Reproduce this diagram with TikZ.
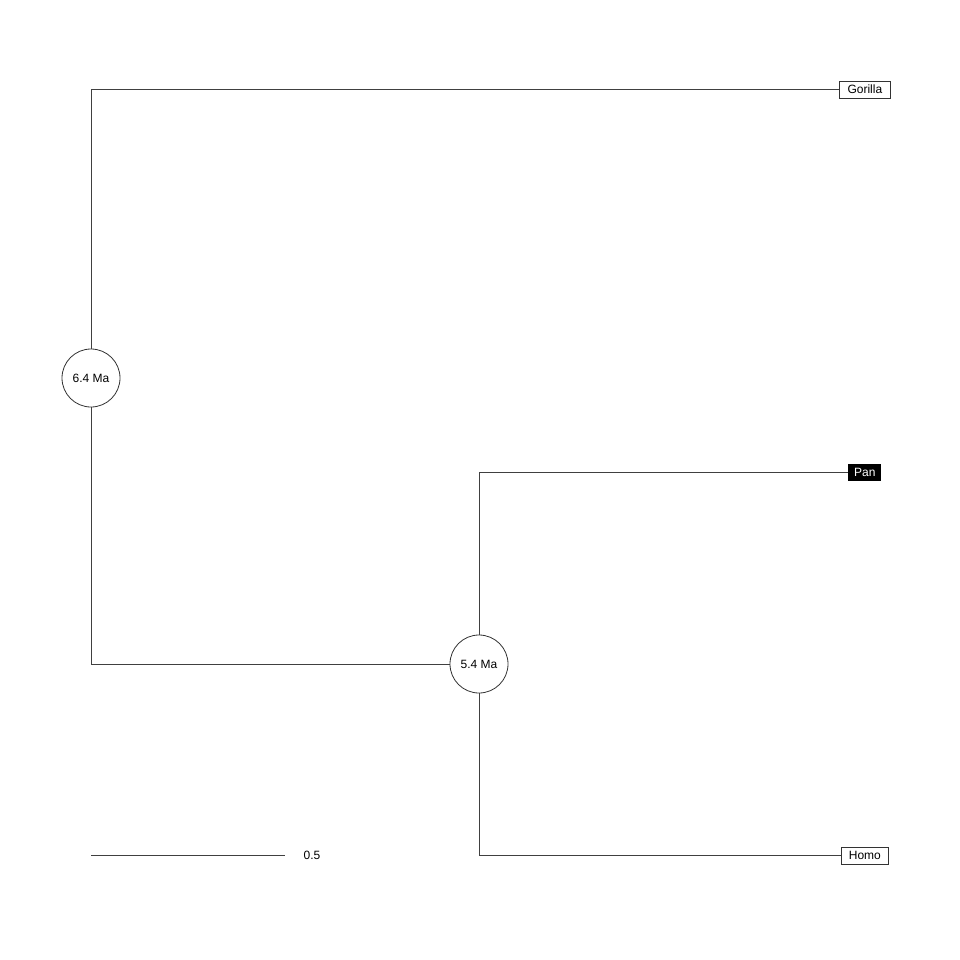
\documentclass[tikz,border=0pt]{standalone}
\usepackage{fontspec}
\setmainfont{Liberation Sans}
\begin{document}
\begin{tikzpicture}[x=0.75pt,y=-0.75pt,
  edge/.style={draw=black!75,line width=0.6pt},
  tip/.style={draw=black!80,line width=0.6pt,fill=white,inner sep=0pt,minimum height=12.75pt,font=\fontsize{9}{10}\selectfont},
  tipdark/.style={fill=black,text=white,inner sep=0pt,minimum height=12.75pt,font=\fontsize{9}{10}\selectfont},
  inner/.style={circle,draw=black!80,line width=0.6pt,fill=white,minimum size=43.5pt,inner sep=0pt,font=\fontsize{9}{10}\selectfont}]
\useasboundingbox (0,0) rectangle (960,960);
\node[inner] (n64) at (91,378) {6.4 Ma};
\node[inner] (n54) at (479,664) {5.4 Ma};
\node[tip,minimum width=38.25pt,anchor=west] (gor) at (839,89.5) {Gorilla};
\node[tipdark,minimum width=24.75pt,anchor=west] (pan) at (848,472.5) {Pan};
\node[tip,minimum width=35.25pt,anchor=west] (homo) at (841,855.5) {Homo};
\draw[edge] (n64) |- (gor.west);
\draw[edge] (n64) |- (n54);
\draw[edge] (n54) |- (pan.west);
\draw[edge] (n54) |- (homo.west);
\coordinate (sb1) at (91,855);
\coordinate (sb2) at (285,855);
\draw[edge] (sb1) -- (sb2);
\node[font=\fontsize{9}{10}\selectfont] (sbl) at (312,855.5) {0.5};
\end{tikzpicture}
\end{document}
